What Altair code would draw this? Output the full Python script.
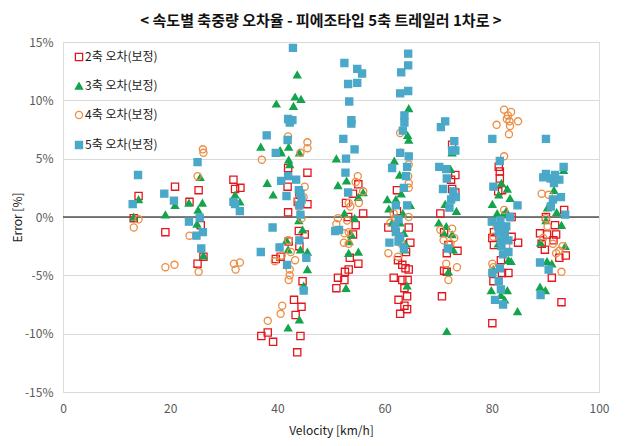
import altair as alt
import pandas as pd

FONT = "Noto Sans CJK KR"

series_names = ["2축 오차(보정)", "3축 오차(보정)", "4축 오차(보정)", "5축 오차(보정)"]

# 2축 (red open squares)
v2 = [14.1, 13.2, 20.9, 19.1, 25.3, 23.6, 25.7, 26.2, 25.1, 31.8, 32.1, 33.1,
      39.7, 40.6, 37.0, 38.2, 39.2, 42.0, 45.6, 41.9, 44.1, 45.6, 42.0, 44.0, 45.1, 42.1, 44.1,
      44.7, 43.1, 44.5, 43.4, 44.3, 43.7, 43.8,
      55.1, 54.1, 52.8, 56.0, 53.2, 54.6, 54.1, 53.5, 55.1, 53.3, 52.6, 51.3, 52.5, 51.0,
      62.3, 62.3, 60.7, 64.5, 62.8, 64.8, 64.0, 62.5, 63.3, 63.9, 64.5, 61.7, 63.3, 64.3, 63.7,
      64.2, 62.6, 63.7, 64.2, 62.9,
      72.6, 73.2, 72.4, 73.2, 72.6, 70.4, 71.1, 71.9, 73.6, 71.6, 71.1, 71.6, 70.7,
      81.3, 81.5, 81.5, 81.9, 81.2, 83.7, 80.1, 83.7, 84.9, 80.4, 81.7, 83.1, 81.9, 80.3, 80.1, 80.4,
      93.5, 90.1, 91.8, 89.0, 90.3, 92.0, 91.5, 89.9, 92.6, 93.8, 91.2, 93.0, 89.3]
e2 = [1.8, -0.1, 2.6, -1.3, 2.3, 1.3, -0.7, -3.4, -4.0, 3.2, 2.4, 2.5,
      -3.6, -3.4, -10.2, -9.9, -10.7, 4.2, 3.8, 2.6, 2.0, 1.1, 0.4, -1.2, -1.5, -2.1, -2.5,
      -5.5, -7.1, -7.7, -8.4, -10.2, -11.6, 1.3,
      2.8, 2.0, 1.2, 0.3, 0.0, -0.7, -1.5, -3.5, -4.0, -4.5, -4.7, -5.2, -5.4, -6.1,
      2.3, 0.5, -0.9, -0.9, -1.7, -2.2, -3.0, -3.7, -4.1, -4.4, -4.5, -5.2, -5.4, -5.4, -6.1,
      -6.8, -7.1, -7.6, -7.9, -8.3,
      6.2, 3.6, 3.2, 2.1, 2.4, 0.3, -1.3, -2.4, -2.9, -3.1, -4.6, -4.7, -6.8,
      4.3, 3.9, 3.3, 2.3, 2.2, 0.0, -1.8, -1.7, -2.2, -2.4, -3.7, -4.8, -4.8, -5.5, -9.1, -1.3,
      0.6, 0.0, -0.7, -1.4, -1.5, -1.5, -2.0, -2.8, -3.5, -3.3, -5.2, -7.3, -2.3]

# 3축 (green filled triangles)
v3 = [14.1, 13.2, 20.9, 19.1, 25.6, 23.5, 26.0, 25.2, 25.0, 26.2, 32.1, 33.0,
      36.9, 38.1, 39.2, 39.8, 42.0, 43.7, 43.3, 44.4, 43.0, 40.7, 40.5, 42.1, 44.1, 42.1, 42.3,
      44.0, 44.7, 41.7, 44.3, 45.6, 45.6, 44.9, 44.1, 42.0,
      51.0, 51.3, 52.9, 56.0, 55.1, 52.5, 54.4, 53.8, 53.4, 53.3, 55.1, 52.8,
      64.5, 64.3, 64.5, 61.8, 62.8, 63.1, 60.5, 62.1, 64.8, 60.8, 63.4, 62.9, 61.4, 63.6, 63.9,
      63.8, 64.2,
      72.6, 72.3, 71.3, 73.4, 70.1, 71.5, 71.1, 72.6, 72.8, 71.9, 71.6,
      81.8, 82.9, 83.4, 80.1, 81.3, 82.7, 81.0, 82.1, 81.2, 83.1, 83.6, 80.3, 79.9, 81.7, 82.9,
      82.4, 84.8, 82.4,
      93.4, 91.6, 90.4, 92.1, 90.1, 93.0, 89.1, 90.3, 91.2, 89.0, 90.0, 93.7]
e3 = [1.5, 0.0, 1.0, 0.2, 3.4, 1.2, 1.2, 0.6, -0.6, -3.3, 1.9, 1.3,
      6.0, 2.9, 1.9, 9.7, -9.5, 12.2, 10.3, 10.1, 9.5, 5.5, 5.7, 6.0, 5.5, 4.9, 4.5,
      -0.3, -1.1, -2.0, -2.8, -3.0, -4.5, -5.9, -8.8, -2.8,
      5.0, 2.7, 3.1, 2.1, 1.7, 0.3, -0.1, -1.5, -2.1, -3.1, -3.0, -6.1,
      9.3, 7.0, 6.6, 4.8, 3.6, 2.0, 1.5, 1.5, 1.0, 0.7, 0.3, -0.5, -0.5, -1.4, -2.3,
      -2.8, -5.9,
      5.5, 4.1, 1.1, 0.5, -0.5, -0.8, -1.4, -1.5, -2.8, -4.7, -9.8,
      2.9, 2.4, 1.6, 1.1, 1.9, 0.5, 0.3, 0.2, -2.3, -3.7, -3.8, -4.5, -6.3, -6.7, -6.3,
      -7.1, -8.1, -1.1,
      4.0, 2.3, 0.8, 0.4, -0.3, -0.7, -2.2, -3.8, -4.0, -6.0, -6.3, -2.5]

# 4축 (orange open circles)
v4 = [14.1, 13.2, 19.1, 20.8, 26.1, 26.2, 25.1, 23.6, 25.3, 31.9, 33.0, 32.2,
      37.1, 39.5, 40.9, 40.6, 38.2, 42.0, 45.6, 45.6, 44.3, 45.1, 43.9, 44.0, 44.9, 44.5,
      42.1, 42.5, 43.3, 42.3, 42.3, 42.1, 40.8,
      55.0, 54.6, 56.0, 55.2, 53.6, 53.3, 53.0, 51.3, 51.0, 52.5, 53.3, 53.3, 52.4,
      62.9, 62.9, 64.5, 64.4, 64.5, 64.5, 62.0, 61.1, 61.7, 60.7, 62.5, 64.5, 63.1,
      70.4, 72.6, 71.0, 73.0, 71.5, 73.5, 71.9, 72.3,
      82.3, 83.6, 83.0, 82.8, 84.9, 80.9, 83.4, 83.2, 82.3, 83.3, 80.3, 80.9, 80.1, 80.3, 82.7, 82.3,
      89.3, 90.6, 90.1, 90.4, 89.6, 91.4, 92.0, 93.2, 93.0, 92.6]
e4 = [-0.2, -0.9, -4.3, -4.1, 5.8, 5.5, 3.5, -1.6, -4.7, -4.0, -3.9, -4.5,
      4.9, -3.8, -7.6, -8.3, -8.9, 6.9, 6.4, 5.9, 5.5, 2.6, 1.5, 0.9, 1.7, -0.1,
      -2.0, -3.0, -3.7, -4.5, -5.0, -5.4, -3.3,
      3.5, 3.0, 2.2, 1.2, 0.9, 1.2, -0.3, -0.1, -0.6, -1.4, -1.3, -2.3, -2.2,
      7.2, 5.5, 4.5, 3.5, 2.9, 2.5, -0.1, -0.5, 0.3, -3.1, -3.4, 0.0, -2.3,
      -1.1, -1.0, -2.0, -1.8, -4.0, -4.3, -5.4, -2.3,
      9.2, 9.0, 8.7, 8.4, 8.2, 7.9, 7.8, 7.1, 5.2, 8.2, -1.7, -0.8, -4.0, -4.3, -2.5, 0.6,
      2.0, 1.9, -0.1, -0.8, -1.8, -2.3, -3.1, -2.5, -4.7, -2.9]

# 5축 (blue filled squares)
v5 = [14.0, 13.0, 18.9, 20.7, 25.1, 23.5, 25.5, 24.9, 26.1, 25.8, 31.8, 32.1, 33.0,
      38.0, 39.7, 40.7, 39.1, 36.9, 40.4, 42.9, 42.0, 42.3, 42.8, 41.9, 42.0, 43.5, 41.7,
      44.0, 44.3, 44.5, 44.1, 44.3, 44.1, 45.4, 41.8, 44.9,
      52.5, 54.9, 55.8, 53.2, 54.9, 53.4, 53.8, 53.8, 52.3, 54.4, 52.8, 52.7, 53.2, 51.5, 50.8,
      64.4, 64.4, 63.1, 62.9, 64.4, 63.7, 63.7, 63.4, 62.9, 64.5, 61.4, 64.2, 64.0, 63.6, 64.2,
      62.1, 62.6, 62.0, 62.1, 60.9, 63.6, 62.9, 62.6,
      71.3, 70.5, 73.0, 72.6, 73.2, 70.2, 71.5, 71.6, 70.9, 72.8, 72.4, 72.1, 73.3, 71.8,
      80.1, 81.5, 80.3, 84.8, 80.0, 81.2, 81.3, 82.7, 83.4, 81.8, 82.1, 83.1, 81.5, 80.1, 81.3,
      81.7, 80.6, 82.1, 83.1, 81.7, 82.4, 82.0, 81.6,
      90.1, 93.4, 90.1, 89.6, 91.0, 91.8, 92.6, 91.6, 92.9, 91.4, 91.0, 93.7, 89.0, 90.6, 89.1]
e5 = [3.6, 1.1, 2.0, 1.4, 4.7, -0.4, -0.05, -1.6, -1.3, -2.7, 1.3, 1.1, 0.5,
      7.0, 5.5, 3.1, -0.9, -3.0, -2.6, 14.5, 8.4, 8.1, 8.3, 6.6, 3.5, 3.2, 1.8,
      2.3, 2.0, 1.5, 1.0, 0.2, -2.0, -3.5, -4.1, -6.3,
      13.2, 12.7, 12.3, 11.4, 11.5, 9.9, 8.3, 8.0, 6.7, 5.8, 5.0, 3.8, 2.1, -1.1, -1.2,
      14.0, 13.0, 12.4, 10.6, 10.8, 8.7, 8.1, 7.4, 5.5, 5.2, 4.2, 4.3, 3.5, 2.5, 1.0,
      1.0, -0.2, -0.8, -1.3, -2.2, -2.7, -1.7, -2.1,
      8.2, 7.7, 6.5, 5.7, 5.7, 4.3, 4.1, 3.3, 2.4, 2.2, 1.5, 0.8, 1.7, -2.7,
      6.7, 4.8, 2.6, 1.0, -0.4, -0.8, -1.3, -0.8, 0.0, -2.5, -3.2, -3.0, -4.4, -4.8, -5.5,
      -6.2, -7.1, -7.5, -2.0, -2.0, -1.4, -1.0, -0.3,
      6.7, 4.3, 3.7, 3.4, 3.3, 3.6, 3.2, 2.9, 1.7, 1.5, 0.9, 0.2, -3.9, -4.5, -6.7]

x_ticks = [0, 20, 40, 60, 80, 100]
y_ticks = [-15, -10, -5, 0, 5, 10, 15]

rows = []
for name, vs, es in zip(series_names, [v2, v3, v4, v5], [e2, e3, e4, e5]):
    for v, e in zip(vs, es):
        rows.append({"series": name, "velocity": v, "error": e})
df = pd.DataFrame(rows)

stroke_colors = ["#e3161d", "#14a44d", "#ec8d42", "#4aa8c8"]
fill_colors = ["transparent", "#14a44d", "transparent", "#4aa8c8"]
shapes = ["square", "triangle-up", "circle", "square"]
sizes = [52, 50, 50, 36]

legend = alt.Legend(
    title=None, orient="none", legendX=10, legendY=9,
    labelFont=FONT, labelFontSize=12, labelColor="#222222",
    rowPadding=16, labelOffset=0, symbolStrokeWidth=1.3,
)

x_enc = alt.X("velocity:Q", title="Velocity [km/h]",
              scale=alt.Scale(domain=[0, 100], nice=False),
              axis=alt.Axis(values=x_ticks, grid=False, ticks=False, domain=False,
                            labelFlush=False,
                            labelFont=FONT, labelFontSize=12, labelColor="#595959",
                            labelPadding=11, titleFont=FONT, titleFontSize=12,
                            titleFontWeight="normal", titleColor="#222222", titlePadding=11))
y_enc = alt.Y("error:Q", title="Error [%]",
              scale=alt.Scale(domain=[-15, 15], nice=False),
              axis=alt.Axis(values=y_ticks, grid=True, gridColor="#d9d9d9", ticks=False,
                            domain=False, labelFlush=False, labelExpr="datum.value + '%'",
                            labelFont=FONT, labelFontSize=12, labelColor="#595959",
                            labelPadding=10, titleFont=FONT, titleFontSize=12,
                            titleFontWeight="normal", titleColor="#222222",
                            titleX=-46, titleY=175, titleAlign="center",
                            titleBaseline="middle", titleAngle=270))

points = alt.Chart(df).mark_point(strokeWidth=1.3, opacity=1).encode(
    x=x_enc,
    y=y_enc,
    shape=alt.Shape("series:N", scale=alt.Scale(domain=series_names, range=shapes), legend=legend),
    stroke=alt.Stroke("series:N", scale=alt.Scale(domain=series_names, range=stroke_colors), legend=legend),
    fill=alt.Fill("series:N", scale=alt.Scale(domain=series_names, range=fill_colors), legend=legend),
    size=alt.Size("series:N", scale=alt.Scale(domain=series_names, range=sizes), legend=legend),
    order=alt.Order("order:Q"),
).transform_calculate(order="indexof(['" + "','".join(series_names) + "'], datum.series)")

zero = alt.Chart(pd.DataFrame({"y": [0]})).mark_rule(color="black", strokeWidth=1).encode(
    y=alt.Y("y:Q", scale=alt.Scale(domain=[-15, 15], nice=False))
)

chart = alt.layer(zero, points).properties(
    width=536, height=350,
    title=alt.Title("< 속도별 축중량 오차율 - 피에조타입 5축 트레일러 1차로 >",
                    font=FONT, fontSize=15, fontWeight="bold", color="#111111",
                    anchor="middle", offset=7, dx=-10),
    autosize=alt.AutoSizeParams(type="none"),
    padding={"left": 55, "top": 34, "right": 25, "bottom": 46},
).configure_view(stroke="black", strokeWidth=1).configure(background="white")

chart.save("out.html", embed_options={"renderer": "svg", "actions": False})
